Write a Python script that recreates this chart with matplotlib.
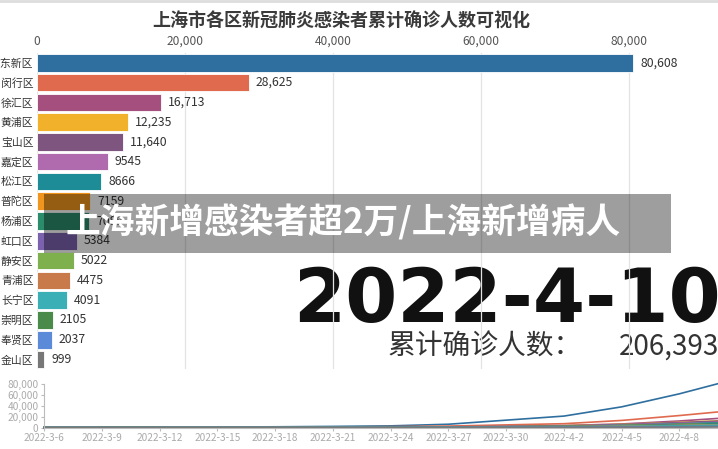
import matplotlib
matplotlib.use("Agg")
import matplotlib.pyplot as plt
import matplotlib.ticker as mticker
from matplotlib.patches import Rectangle
import pandas as pd

plt.rcParams['font.family'] = ['Noto Sans CJK SC', 'DejaVu Sans']

title = '上海市各区新冠肺炎感染者累计确诊人数可视化'
districts = ['浦东新区', '闵行区', '徐汇区', '黄浦区', '宝山区', '嘉定区', '松江区', '普陀区',
             '杨浦区', '虹口区', '静安区', '青浦区', '长宁区', '崇明区', '奉贤区', '金山区']
totals = [80608, 28625, 16713, 12235, 11640, 9545, 8666, 7159,
          7089, 5384, 5022, 4475, 4091, 2105, 2037, 999]
colors = ['#2f6f9f', '#e06a4e', '#a44f7e', '#f2b12a', '#7e557f', '#b06aae', '#1d8c96', '#f0961e',
          '#2a8c6a', '#7b62ae', '#7fb04e', '#c87a4a', '#3aafb5', '#4a8a4a', '#5a8ad8', '#777777']

current_date = '2022-4-10'
total_label = '累计确诊人数：'
total_value = 206393
banner = '上海新增感染者超2万/上海新增病人'

# cumulative counts sampled every 3 days (last point = current date)
dates = ['2022-3-6', '2022-3-9', '2022-3-12', '2022-3-15', '2022-3-18', '2022-3-21', '2022-3-24',
         '2022-3-27', '2022-3-30', '2022-4-2', '2022-4-5', '2022-4-8', '2022-4-10']
history = {
    '浦东新区': [50, 150, 400, 800, 1300, 2000, 3000, 6000, 13500, 21000, 38000, 62000, 80608],
    '闵行区': [10, 40, 120, 300, 600, 1000, 1600, 2600, 4800, 7000, 13000, 22000, 28625],
    '徐汇区': [5, 20, 60, 150, 300, 500, 800, 1300, 2300, 3600, 6500, 12000, 16713],
    '黄浦区': [5, 15, 50, 120, 250, 420, 700, 1100, 2000, 3200, 5800, 9500, 12235],
    '宝山区': [3, 10, 40, 100, 220, 400, 650, 1000, 1800, 3000, 5500, 9000, 11640],
    '嘉定区': [2, 10, 30, 80, 180, 330, 550, 900, 1600, 2600, 4600, 7500, 9545],
    '松江区': [2, 8, 30, 80, 170, 300, 500, 800, 1400, 2300, 4000, 6600, 8666],
    '普陀区': [2, 8, 25, 70, 150, 260, 430, 700, 1200, 2000, 3400, 5500, 7159],
    '杨浦区': [2, 8, 25, 70, 150, 260, 430, 700, 1200, 1900, 3300, 5400, 7089],
    '虹口区': [1, 5, 20, 50, 110, 200, 330, 520, 900, 1450, 2500, 4100, 5384],
    '静安区': [1, 5, 20, 50, 100, 190, 300, 500, 850, 1350, 2300, 3800, 5022],
    '青浦区': [1, 4, 15, 40, 90, 170, 270, 440, 760, 1200, 2100, 3400, 4475],
    '长宁区': [1, 4, 15, 40, 80, 150, 250, 400, 700, 1100, 1900, 3100, 4091],
    '崇明区': [0, 2, 8, 20, 40, 80, 130, 200, 360, 560, 980, 1600, 2105],
    '奉贤区': [0, 2, 8, 20, 40, 75, 120, 200, 350, 550, 950, 1550, 2037],
    '金山区': [0, 1, 4, 10, 20, 35, 60, 100, 170, 270, 470, 760, 999],
}

W, H = 718, 449
fig = plt.figure(figsize=(W / 100, H / 100), dpi=100)

# thin frame line at very top
fig.add_artist(plt.Line2D([0, 1], [1 - 1 / H, 1 - 1 / H], color='#dddddd', lw=2))

fig.text(341 / W, 1 - 21 / H, title, ha='center', va='center', fontsize=13,
         fontweight='bold', color='#3a3a3a')

# --- bar race chart ---
ax = fig.add_axes([37 / W, 1 - 369.4 / H, (W - 37) / W, (369.4 - 52.9) / H])
ax.patch.set_alpha(0)
pos = list(range(len(districts)))
ax.barh(pos, totals, height=0.89, color=colors, edgecolor='white', linewidth=0.6, zorder=2)
for p, v in zip(pos, totals):
    label = f'{v:,}' if v >= 10000 else str(v)
    ax.annotate(label, (v, p), xytext=(5, 0), textcoords='offset points',
                va='center', ha='left', fontsize=8.8, color='#333333', zorder=3)
ax.set_xlim(0, (W - 37) / 7.4 * 1000)
ax.set_ylim(15.5, -0.5)
ax.set_yticks(pos)
ax.set_yticklabels(districts, fontsize=7.8, color='#333333')
ax.xaxis.tick_top()
ax.set_xticks([0, 20000, 40000, 60000, 80000])
ax.xaxis.set_major_formatter(mticker.FuncFormatter(lambda v, _: f'{int(v):,}'))
ax.tick_params(axis='x', length=0, pad=3.5, labelsize=8.6, labelcolor='#555555')
ax.tick_params(axis='y', length=0, pad=2.5)
ax.grid(axis='x', color='#e3e3e3', lw=0.9, zorder=1)
for s in ax.spines.values():
    s.set_visible(False)

# big date and total behind the axes
fig.text(721 / W, 1 - 322 / H, current_date, ha='right', va='baseline', fontsize=54,
         fontweight='bold', color='#111111', family=['DejaVu Sans'], zorder=-1)
fig.text(388 / W, 1 - 355 / H, total_label, ha='left', va='baseline', fontsize=20,
         color='#333333', zorder=-1)
fig.text(719 / W, 1 - 355 / H, f'{total_value:,}', ha='right', va='baseline', fontsize=20,
         color='#333333', zorder=-1)

# --- line chart ---
lx = fig.add_axes([44 / W, 1 - 427.5 / H, (W - 44) / W, (427.5 - 384) / H])
lx.patch.set_alpha(0)
dt = pd.to_datetime(dates, format='%Y-%m-%d')
for name, c in zip(districts, colors):
    lx.plot(dt, history[name], color=c, lw=1.2, clip_on=False)
lx.set_ylim(0, 80000)
lx.set_xlim(dt[0], dt[-1])
lx.set_yticks([0, 20000, 40000, 60000, 80000])
lx.yaxis.set_major_formatter(mticker.FuncFormatter(lambda v, _: f'{int(v):,}'))
lx.set_xticks(dt[:-1])
lx.set_xticklabels([f'{d.year}-{d.month}-{d.day}' for d in dt[:-1]])
lx.tick_params(labelsize=7.3, labelcolor='#aaaaaa', color='#bbbbbb', length=2.5, pad=1.5)
for s in ['top', 'right']:
    lx.spines[s].set_visible(False)
for s in ['left', 'bottom']:
    lx.spines[s].set_color('#bbbbbb')

# semi-transparent caption banner
fig.add_artist(Rectangle((44 / W, 1 - 253 / H), (671 - 44) / W, (253 - 194) / H,
                         transform=fig.transFigure, facecolor='black', alpha=0.38,
                         edgecolor='none', zorder=10))
fig.text(343 / W, 1 - 222 / H, banner, ha='center', va='center', fontsize=25,
         fontweight='bold', color='white', zorder=11)

fig.savefig('out.png', dpi=100)
